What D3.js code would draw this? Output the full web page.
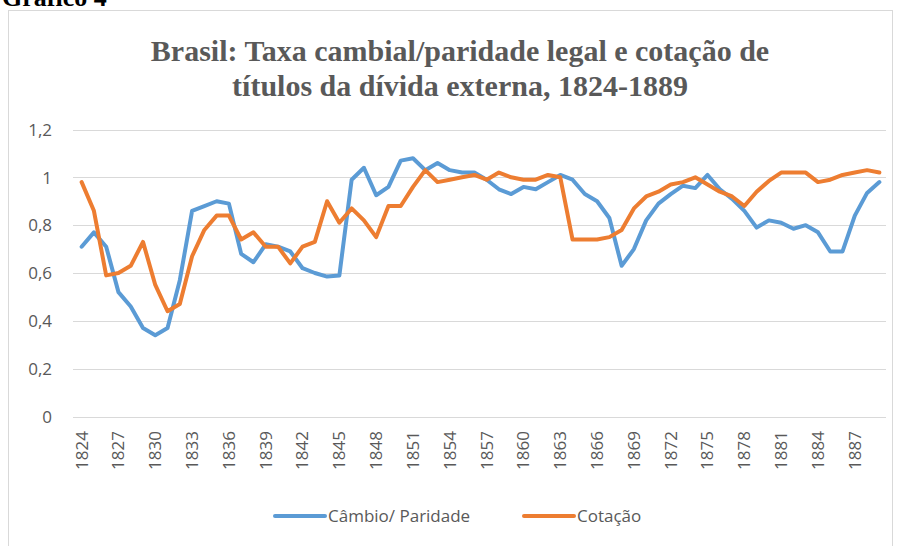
<!DOCTYPE html>
<html>
<head>
<meta charset="utf-8">
<script src="https://cdn.jsdelivr.net/npm/d3@7"></script>
<style>
  html, body { margin: 0; padding: 0; background: #fff; }
  svg { display: block; }
</style>
</head>
<body>
<script>
// ---- Data ----
const years = d3.range(1824, 1890);
const cambio = [
  0.71, 0.77, 0.71, 0.52, 0.46, 0.37, 0.34, 0.37, 0.57, 0.86,
  0.88, 0.90, 0.89, 0.68, 0.645, 0.72, 0.71, 0.69, 0.62, 0.60,
  0.585, 0.59, 0.99, 1.04, 0.925, 0.96, 1.07, 1.08, 1.03, 1.06,
  1.03, 1.02, 1.02, 0.99, 0.95, 0.93, 0.96, 0.95, 0.98, 1.01,
  0.99, 0.93, 0.90, 0.83, 0.63, 0.70, 0.82, 0.89, 0.93, 0.965,
  0.955, 1.01, 0.95, 0.91, 0.86, 0.79, 0.82, 0.81, 0.785, 0.80,
  0.77, 0.69, 0.69, 0.84, 0.935, 0.98
];
const cotacao = [
  0.98, 0.86, 0.59, 0.60, 0.63, 0.73, 0.55, 0.44, 0.47, 0.67,
  0.78, 0.84, 0.84, 0.74, 0.77, 0.71, 0.71, 0.64, 0.71, 0.73,
  0.90, 0.81, 0.87, 0.82, 0.75, 0.88, 0.88, 0.96, 1.03, 0.98,
  0.99, 1.00, 1.01, 0.99, 1.02, 1.00, 0.99, 0.99, 1.01, 1.00,
  0.74, 0.74, 0.74, 0.75, 0.78, 0.87, 0.92, 0.94, 0.97, 0.98,
  1.00, 0.97, 0.94, 0.92, 0.88, 0.94, 0.985, 1.02, 1.02, 1.02,
  0.98, 0.99, 1.01, 1.02, 1.03, 1.02
];
const yTicks = [0, 0.2, 0.4, 0.6, 0.8, 1, 1.2];
const yTickLabels = ["0", "0,2", "0,4", "0,6", "0,8", "1", "1,2"];
const xTickYears = d3.range(1824, 1890, 3);
const seriesNames = ["Câmbio/ Paridade", "Cotação"];
const seriesColors = ["#5b9bd5", "#ed7d31"];
const titleLines = ["Brasil: Taxa cambial/paridade legal e cotação de", "títulos da dívida externa, 1824-1889"];
const headerText = "Gráfico 4";

// ---- Drawing ----
const W = 898, H = 546;
const svg = d3.select("body").append("svg").attr("width", W).attr("height", H);

svg.append("rect").attr("x", 0).attr("y", 0).attr("width", W).attr("height", H).attr("fill", "#fff");

// header (cut off at top, as in the reference)
svg.append("text").attr("x", 2).attr("y", 6)
  .attr("font-family", "'Liberation Serif', 'Times New Roman', serif")
  .attr("font-weight", "bold").attr("font-size", 26).attr("fill", "#000")
  .text(headerText);

// chart border
svg.append("rect").attr("x", 8.5).attr("y", 10.5).attr("width", 884).attr("height", 545)
  .attr("fill", "#fff").attr("stroke", "#d9d9d9").attr("stroke-width", 1);

// title
const title = svg.append("text").attr("text-anchor", "middle")
  .attr("font-family", "'Liberation Serif', 'Times New Roman', serif")
  .attr("font-weight", "bold").attr("font-size", 30).attr("fill", "#595959");
title.selectAll("tspan").data(titleLines).join("tspan")
  .attr("x", 460).attr("y", (d, i) => 61 + i * 35)
  .text(d => d);

const x = d3.scaleBand().domain(years).range([75.5, 885.5]);
const y = d3.scaleLinear().domain([0, 1.2]).range([416.5, 129.5]);
const cx = d => x(d) + x.bandwidth() / 2;

// gridlines
svg.append("g").selectAll("line").data(yTicks).join("line")
  .attr("x1", 73).attr("x2", 886)
  .attr("y1", d => Math.round(y(d)) + 0.5).attr("y2", d => Math.round(y(d)) + 0.5)
  .attr("stroke", "#d9d9d9").attr("stroke-width", 1);

const labelFont = "'Open Sans', 'Noto Sans', sans-serif";

// y axis labels
const yAxis = d3.axisLeft(y).tickValues(yTicks).tickSize(0).tickPadding(0)
  .tickFormat((d, i) => yTickLabels[i]);
const gy = svg.append("g").attr("transform", "translate(52,0)").call(yAxis);
gy.select(".domain").remove();
gy.selectAll("text").attr("font-family", labelFont).attr("font-size", 17)
  .attr("fill", "#595959").attr("dy", "0.34em");

// x axis labels (rotated)
const xAxis = d3.axisBottom(x).tickValues(xTickYears).tickSize(0).tickPadding(0);
const gx = svg.append("g").attr("transform", "translate(0,431)").call(xAxis);
gx.select(".domain").remove();
gx.selectAll("text")
  .attr("font-family", labelFont).attr("font-size", 17).attr("fill", "#595959")
  .attr("text-anchor", "end").attr("transform", "rotate(-90)")
  .attr("x", 0).attr("y", 0).attr("dy", "0.35em");

// lines
const line = d3.line().x((d, i) => cx(years[i])).y(d => y(d));
[cambio, cotacao].forEach((s, k) => {
  svg.append("path").datum(s).attr("d", line)
    .attr("fill", "none").attr("stroke", seriesColors[k])
    .attr("stroke-width", 4).attr("stroke-linejoin", "round").attr("stroke-linecap", "round");
});

// legend
const legendX = [275, 524];
seriesNames.forEach((n, k) => {
  const g = svg.append("g");
  g.append("line").attr("x1", legendX[k]).attr("x2", legendX[k] + 50)
    .attr("y1", 516).attr("y2", 516)
    .attr("stroke", seriesColors[k]).attr("stroke-width", 4).attr("stroke-linecap", "round");
  g.append("text").attr("x", legendX[k] + 53).attr("y", 516).attr("dy", "0.35em")
    .attr("font-family", labelFont).attr("font-size", 17).attr("fill", "#595959").text(n);
});
</script>
</body>
</html>
